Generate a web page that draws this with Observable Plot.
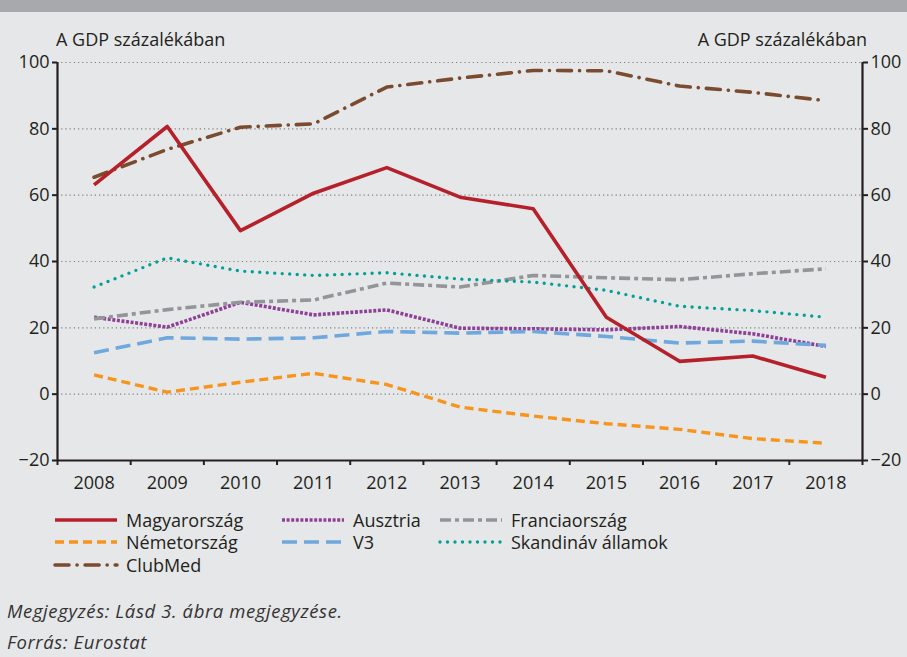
<!DOCTYPE html>
<html>
<head>
<meta charset="utf-8">
<script src="https://cdn.jsdelivr.net/npm/d3@7"></script>
<script src="https://cdn.jsdelivr.net/npm/@observablehq/plot@0.6"></script>
<style>
  html, body { margin: 0; padding: 0; }
  body { width: 907px; height: 657px; background: #e6e7e8; position: relative; overflow: hidden; font-family: "Open Sans", Lato, sans-serif; color: #231f20; }
  #topbar { position: absolute; left: 0; top: 0; width: 907px; height: 12px; background: #a7a9ac; }
  .unit { position: absolute; top: 27px; font-size: 18px; }
  #chart { position: absolute; left: 0; top: 20px; }
  .leg { position: absolute; font-size: 18px; display: flex; align-items: center; white-space: nowrap; }
  .leg svg { margin-right: 7px; }
  .cap { position: absolute; left: 7px; font-size: 18.5px; letter-spacing: 0.6px; font-style: italic; color: #333; }
</style>
</head>
<body>
<div id="topbar"></div>
<div class="unit" style="left:56px;">A GDP százalékában</div>
<div class="unit" style="right:40px;">A GDP százalékában</div>
<div id="chart"></div>
<div id="legend"></div>
<div class="cap" style="top:598px;">Megjegyzés: Lásd 3. ábra megjegyzése.</div>
<div class="cap" style="top:629px;">Forrás: Eurostat</div>
<script>
const years = [2008, 2009, 2010, 2011, 2012, 2013, 2014, 2015, 2016, 2017, 2018];
const magyarorszag = [63.1, 80.7, 49.3, 60.6, 68.3, 59.4, 55.9, 23.2, 9.9, 11.5, 5.1];
const ausztria = [23.2, 20.2, 27.7, 23.9, 25.4, 19.9, 19.7, 19.4, 20.4, 18.2, 14.4];
const franciaorszag = [22.7, 25.5, 27.7, 28.4, 33.5, 32.3, 35.8, 35.1, 34.5, 36.3, 37.8];
const nemetorszag = [5.8, 0.6, 3.6, 6.3, 2.9, -3.9, -6.6, -8.9, -10.6, -13.4, -14.8];
const v3 = [12.5, 17.0, 16.6, 17.0, 18.9, 18.4, 18.9, 17.4, 15.4, 16.0, 14.7];
const skandinav = [32.3, 41.1, 37.1, 35.8, 36.6, 34.7, 33.8, 31.3, 26.5, 25.2, 23.2];
const clubmed = [65.4, 73.8, 80.5, 81.5, 92.6, 95.3, 97.6, 97.5, 92.9, 91.0, 88.5];
const yTicks = [-20, 0, 20, 40, 60, 80, 100];
const gridTicks = [0, 20, 40, 60, 80, 100];

const series = [
  {name: "Ausztria", values: ausztria, stroke: "#8e3f97", dash: "3,1.6", width: 3.6, cap: "butt"},
  {name: "Franciaország", values: franciaorszag, stroke: "#939598", dash: "11,4,4,4", width: 3.6, cap: "butt"},
  {name: "Németország", values: nemetorszag, stroke: "#f7941d", dash: "9,5", width: 3.4, cap: "butt"},
  {name: "V3", values: v3, stroke: "#6fa8dc", dash: "15,7", width: 3.6, cap: "butt"},
  {name: "Skandináv államok", values: skandinav, stroke: "#00a096", dash: "0,7.5", width: 3.4, cap: "round"},
  {name: "ClubMed", values: clubmed, stroke: "#7b4b2f", dash: "14,8,0.1,8", width: 3.6, cap: "round"},
  {name: "Magyarország", values: magyarorszag, stroke: "#b5202a", dash: null, width: 3.6, cap: "butt"}
];

const rows = series.flatMap(s => years.map((y, i) => ({series: s.name, year: y, value: s.values[i]})));

const lineMarks = series.map(s => Plot.line(rows.filter(d => d.series === s.name), {
  x: "year", y: "value", stroke: s.stroke, strokeWidth: s.width,
  strokeDasharray: s.dash || undefined, strokeLinecap: s.cap, strokeLinejoin: "round"
}));

const bounds = d3.range(2007.5, 2019, 1);

const plot = Plot.plot({
  width: 907,
  height: 480,
  marginTop: 42,
  marginBottom: 40,
  marginLeft: 57,
  marginRight: 45,
  style: {fontFamily: "'Open Sans', Lato, sans-serif", fontSize: "18px", color: "#231f20", background: "transparent", overflow: "visible"},
  x: {domain: [2007.5, 2018.5]},
  y: {domain: [-20, 100]},
  marks: [
    Plot.ruleY(gridTicks, {stroke: "#7f7f7f", strokeWidth: 1.2, strokeDasharray: "1.2,3"}),
    Plot.axisY({anchor: "left", ticks: yTicks, tickSize: 5, tickPadding: 3, label: null, strokeWidth: 2, fontSize: 18}),
    Plot.axisY({anchor: "right", ticks: yTicks, tickSize: 5, tickPadding: 3, label: null, strokeWidth: 2, fontSize: 18}),
    Plot.axisX({ticks: years, tickSize: 0, tickPadding: 16, tickFormat: d => String(d), label: null, fontSize: 18}),
    Plot.axisX({ticks: bounds, tickSize: 5, tickFormat: () => "", label: null, strokeWidth: 2}),
    Plot.ruleX([2007.5, 2018.5], {y1: -20, y2: 100, stroke: "#231f20", strokeWidth: 2.2}),
    Plot.ruleY([-20], {stroke: "#231f20", strokeWidth: 2.2}),
    ...lineMarks
  ]
});
document.getElementById("chart").appendChild(plot);

// legend
const legendPos = {
  "Magyarország": [53, 521], "Ausztria": [280, 521], "Franciaország": [438, 521],
  "Németország": [53, 543], "V3": [280, 543], "Skandináv államok": [438, 543],
  "ClubMed": [53, 566]
};
const legend = document.getElementById("legend");
for (const s of series) {
  const [lx, ly] = legendPos[s.name];
  const div = document.createElement("div");
  div.className = "leg";
  div.style.left = lx + "px";
  div.style.top = (ly - 13) + "px";
  const w = 66;
  div.innerHTML = `<svg width="${w}" height="24"><line x1="2" x2="${w - 2}" y1="12" y2="12" stroke="${s.stroke}" stroke-width="${s.width}" ${s.dash ? `stroke-dasharray="${s.dash}"` : ""} stroke-linecap="${s.cap}"/></svg><span>${s.name}</span>`;
  legend.appendChild(div);
}
</script>
</body>
</html>
